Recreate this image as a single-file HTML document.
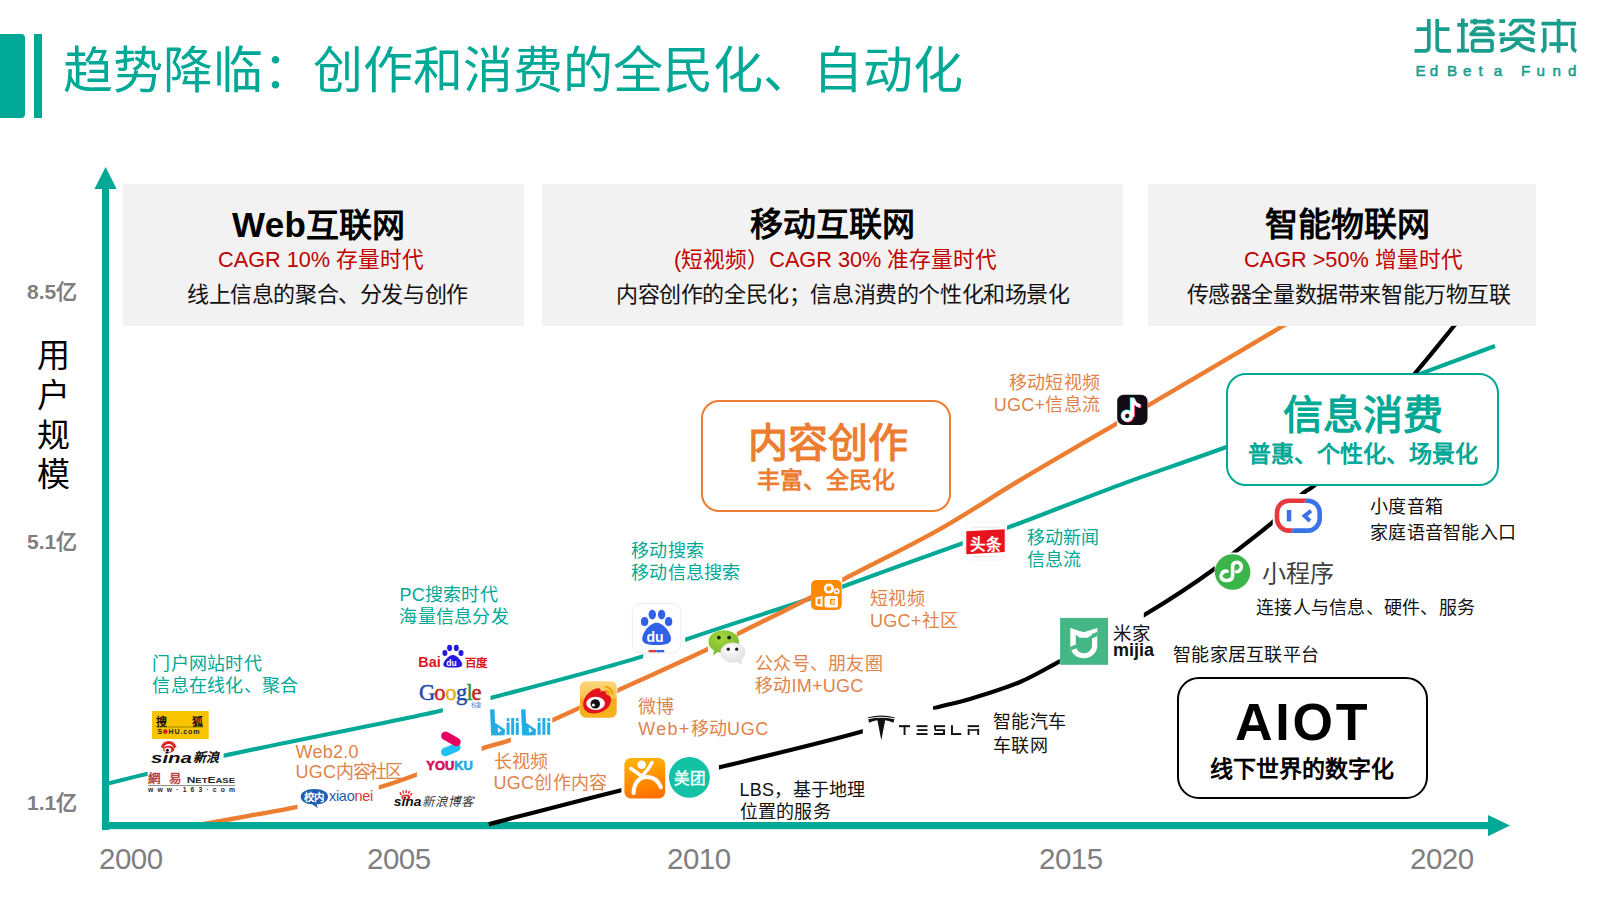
<!DOCTYPE html>
<html lang="zh-CN"><head><meta charset="utf-8">
<style>
html,body{margin:0;padding:0;background:#fff;}
body{width:1600px;height:900px;position:relative;overflow:hidden;font-family:"Liberation Sans",sans-serif;}
.abs{position:absolute;}
.t{position:absolute;white-space:nowrap;}
.ln{display:block;}
.j{text-align:justify;text-align-last:justify;}
.tofu .c{-webkit-text-stroke:0.065em currentColor;}
.tofu .bd .c{-webkit-text-stroke:0.1em currentColor;}
.m .ln{width:max-content;}
.gbox{position:absolute;background:#F2F2F2;top:184px;height:142px;}
</style>
<script>
(function(){try{var c=document.createElement("canvas").getContext("2d");c.font='100px "Liberation Sans", sans-serif';
var a=c.measureText("国国").width;if(a<180)document.documentElement.className+=" tofu";}catch(e){}})();
</script></head><body>
<div class="abs" style="left:0;top:34px;width:25px;height:84px;background:#00A896;border-radius:0 4px 4px 0"></div>
<div class="abs" style="left:34px;top:34px;width:8px;height:84px;background:#00A896"></div>
<div class="gbox" style="left:123px;width:401px"></div>
<div class="gbox" style="left:542px;width:581px"></div>

<svg class="abs" width="1600" height="900" viewBox="0 0 1600 900" style="left:0;top:0">
  <defs><mask id="mt" maskUnits="userSpaceOnUse" x="0" y="0" width="1600" height="900"><rect x="0" y="0" width="1600" height="900" fill="#fff"/><rect x="147.6" y="700" width="76.00" height="100.00" fill="#000"/><rect x="442.9" y="640" width="47.60" height="80.00" fill="#000"/><rect x="643.2" y="600" width="42.00" height="65.00" fill="#000"/><rect x="811" y="575" width="31.20" height="40.00" fill="#000"/><rect x="962.7" y="515" width="44.30" height="50.00" fill="#000"/></mask><mask id="mo" maskUnits="userSpaceOnUse" x="0" y="0" width="1600" height="900"><rect x="0" y="0" width="1600" height="900" fill="#fff"/><rect x="297.5" y="780" width="81.20" height="35.00" fill="#000"/><rect x="416.9" y="725" width="64.70" height="55.00" fill="#000"/><rect x="510.9" y="705" width="41.40" height="40.00" fill="#000"/><rect x="579.7" y="680" width="37.60" height="40.00" fill="#000"/><rect x="708" y="628" width="28.70" height="32.00" fill="#000"/><rect x="811" y="575" width="31.20" height="40.00" fill="#000"/><rect x="1117" y="390" width="30.80" height="40.00" fill="#000"/></mask><mask id="mb" maskUnits="userSpaceOnUse" x="0" y="0" width="1600" height="900"><rect x="0" y="0" width="1600" height="900" fill="#fff"/><rect x="1300" y="150" width="300.00" height="175.80" fill="#000"/><rect x="621.4" y="750" width="97.50" height="55.00" fill="#000"/><rect x="862.8" y="700" width="70.20" height="45.00" fill="#000"/><rect x="933" y="709.6" width="17.00" height="35.40" fill="#000"/><rect x="1059.8" y="612" width="84.00" height="56.00" fill="#000"/><rect x="1214.6" y="552.5" width="36.40" height="38.50" fill="#000"/><rect x="1272.7" y="494" width="50.30" height="42.00" fill="#000"/></mask></defs>
  <path d="M105.00 784.20 C112.10 782.45 131.35 777.62 147.60 773.70 C169.28 768.47 191.65 762.88 223.60 755.80 C277.72 743.82 396.52 721.10 442.90 710.30 C464.63 705.24 470.16 703.42 490.50 698.00 C527.00 688.28 608.38 667.60 643.20 656.10 C661.77 649.97 667.35 646.20 685.20 639.80 C715.81 628.82 783.18 608.06 811.00 598.30 C824.95 593.41 828.40 591.75 842.20 586.70 C869.27 576.79 932.35 554.04 962.70 543.30 C981.06 536.80 988.90 534.50 1007.00 527.90 C1036.07 517.31 1082.95 498.45 1120.00 484.80 C1155.57 471.70 1184.57 462.31 1225.00 447.50 C1280.76 427.08 1373.64 391.31 1423.30 372.70 C1453.14 361.52 1483.05 350.45 1495.00 346.00" fill="none" stroke="#00A896" stroke-width="4.1" stroke-linejoin="round" mask="url(#mt)"/>
  <path d="M193.00 826.00 C202.50 824.27 231.87 818.92 250.00 815.60 C266.56 812.57 279.61 810.67 297.50 806.90 C321.02 801.94 356.80 793.83 378.70 787.50 C393.93 783.10 402.58 779.79 416.90 774.50 C435.72 767.55 464.14 754.82 481.60 748.70 C493.17 744.64 500.45 743.82 510.90 739.80 C523.68 734.88 539.91 726.07 552.30 720.30 C562.36 715.62 569.84 712.20 579.70 707.70 C591.24 702.44 602.06 697.65 617.30 690.70 C641.00 679.90 686.31 659.50 708.00 649.00 C720.32 643.04 724.89 640.36 736.70 634.40 C755.67 624.82 791.60 607.40 811.00 597.20 C823.70 590.52 828.85 587.15 842.20 580.00 C865.68 567.42 909.54 546.32 940.00 529.10 C967.70 513.44 990.29 497.97 1017.80 481.50 C1048.50 463.12 1092.03 437.93 1115.80 424.10 C1129.36 416.21 1133.49 413.95 1147.80 405.60 C1177.13 388.48 1257.60 340.85 1281.70 326.70 C1290.60 321.48 1296.95 317.78 1300.00 316.00" fill="none" stroke="#ED7D31" stroke-width="4.4" stroke-linejoin="round" mask="url(#mo)"/>
</svg>
<div class="gbox" style="left:1148px;width:388px"></div>

<svg class="abs" width="1600" height="900" viewBox="0 0 1600 900" style="left:0;top:0">
  <rect x="102" y="186" width="7" height="644" fill="#00A896"/>
  <polygon points="105.6,167 94.4,189 116.6,189" fill="#00A896"/>
  <rect x="102" y="822" width="1388" height="7.2" fill="#00A896"/>
  <polygon points="1510,825.6 1488,815 1488,836.2" fill="#00A896"/>
  <path d="M488.80 824.20 C510.90 818.53 580.54 800.21 621.40 790.20 C656.34 781.64 683.29 776.03 718.90 767.40 C762.25 756.89 823.51 742.60 862.80 731.30 C890.52 723.33 913.24 714.24 933.00 708.50 C947.22 704.37 956.82 702.93 970.00 699.00 C985.50 694.38 1004.52 688.61 1020.00 682.00 C1034.27 675.90 1044.14 669.66 1059.80 661.30 C1082.68 649.08 1117.30 631.24 1143.80 615.30 C1168.73 600.30 1198.32 580.64 1214.60 568.70 C1223.67 562.05 1227.14 558.42 1235.00 552.10 C1245.63 543.54 1260.85 532.36 1272.70 522.10 C1284.02 512.30 1296.79 498.35 1304.70 492.00 C1308.91 488.62 1310.19 489.21 1315.00 485.00 C1331.71 470.39 1389.75 402.74 1415.00 373.30 C1431.02 354.63 1444.24 337.90 1453.30 326.70 C1458.36 320.45 1463.05 314.45 1465.00 312.00" fill="none" stroke="#000" stroke-width="4.2" stroke-linejoin="round" mask="url(#mb)"/>
</svg>
<div class="abs" style="left:701px;top:400px;width:246px;height:108px;border:2px solid #ED7D31;border-radius:18px;background:#fff"></div>
<div class="abs" style="left:1226px;top:373px;width:269px;height:109px;border:2px solid #00A896;border-radius:20px;background:#fff"></div>
<div class="abs" style="left:1177px;top:677px;width:247px;height:118px;border:2px solid #000;border-radius:22px;background:#fff"></div>
<svg class="abs" width="1600" height="900" viewBox="0 0 1600 900" style="left:0;top:0">
<path d="M1416.5 29.2 L1429 29.2 M1428.8 19 L1428.8 47 Q1428.8 50.8 1425 50.8 L1414.5 50.8 M1437.2 19 L1437.2 47 Q1437.2 50.8 1441 50.8 L1451 50.8 M1437.2 29.2 L1449.5 29.2 M1457.3 24.8 L1468 24.8 M1462.8 18.5 L1462.8 50.5 M1457 50.6 L1469 50.6 M1470.3 21.6 L1493.5 21.6 M1475 18.8 L1475 24.5 M1488.5 18.8 L1488.5 24.5 M1471 34.3 L1476.5 28.2 L1488 28.2 L1493.3 34.3 Z M1474.5 40.6 L1490 40.6 Q1492 40.6 1492 42.6 L1492 48.8 Q1492 50.8 1490 50.8 L1474.5 50.8 Q1472.6 50.8 1472.6 48.8 L1472.6 42.6 Q1472.6 40.6 1474.5 40.6 Z M1499.3 21.2 L1505 21.2 M1499.3 34.3 L1505 34.3 M1509.5 25.8 L1513.6 20.6 L1532 20.6 Q1534.5 21 1531 26 M1521.5 25 Q1518 31.5 1509.5 34.5 M1521.5 25 Q1526 31.5 1535 34 M1502 44 L1502 39.1 L1532 39.1 L1532 44 M1517.5 41 Q1514 48.5 1500.5 51 M1517.5 41 Q1521 48.5 1535 50.8 M1541.5 23.7 L1576 23.7 M1558.6 19 L1558.6 52.8 M1544.7 28 L1544.7 47.5 Q1544.5 50 1541.5 51.5 M1572.7 28 L1572.7 47.5 Q1573 50 1576.3 51.3 M1549.3 44.1 L1568 44.1" fill="none" stroke="#1B9D8D" stroke-width="3.7" stroke-linecap="butt" stroke-linejoin="round"/><text x="1415.4" y="75.9" font-family="Liberation Sans, sans-serif" font-size="15.2" fill="#1B9D8D" stroke="#1B9D8D" stroke-width="0.55">E</text><text x="1429.7" y="75.9" font-family="Liberation Sans, sans-serif" font-size="15.2" fill="#1B9D8D" stroke="#1B9D8D" stroke-width="0.55">d</text><text x="1446.9" y="75.9" font-family="Liberation Sans, sans-serif" font-size="15.2" fill="#1B9D8D" stroke="#1B9D8D" stroke-width="0.55">B</text><text x="1463" y="75.9" font-family="Liberation Sans, sans-serif" font-size="15.2" fill="#1B9D8D" stroke="#1B9D8D" stroke-width="0.55">e</text><text x="1478.4" y="75.9" font-family="Liberation Sans, sans-serif" font-size="15.2" fill="#1B9D8D" stroke="#1B9D8D" stroke-width="0.55">t</text><text x="1493.8" y="75.9" font-family="Liberation Sans, sans-serif" font-size="15.2" fill="#1B9D8D" stroke="#1B9D8D" stroke-width="0.55">a</text><text x="1521.1" y="75.9" font-family="Liberation Sans, sans-serif" font-size="15.2" fill="#1B9D8D" stroke="#1B9D8D" stroke-width="0.55">F</text><text x="1536.6" y="75.9" font-family="Liberation Sans, sans-serif" font-size="15.2" fill="#1B9D8D" stroke="#1B9D8D" stroke-width="0.55">u</text><text x="1552.6" y="75.9" font-family="Liberation Sans, sans-serif" font-size="15.2" fill="#1B9D8D" stroke="#1B9D8D" stroke-width="0.55">n</text><text x="1568" y="75.9" font-family="Liberation Sans, sans-serif" font-size="15.2" fill="#1B9D8D" stroke="#1B9D8D" stroke-width="0.55">d</text>
<rect x="152" y="711" width="56.7" height="28" fill="#F8C400"/>
<text x="156" y="726.3" font-family="Liberation Sans, sans-serif" font-size="11" font-weight="bold" fill="#111">搜</text>
<text x="191.5" y="726.3" font-family="Liberation Sans, sans-serif" font-size="11" font-weight="bold" fill="#111">狐</text>
<line x1="157" y1="727" x2="203" y2="727" stroke="#6a5a00" stroke-width="0.6"/>
<text x="157.5" y="734.2" font-family="Liberation Sans, sans-serif" font-size="7" font-weight="bold" fill="#222">S</text>
<circle cx="165.3" cy="731.6" r="2.3" fill="#D0201A"/>
<text x="168.5" y="734.2" font-family="Liberation Sans, sans-serif" font-size="7" font-weight="bold" fill="#222" letter-spacing="0.9">HU.com</text>
<path d="M164.0 747.3 L161.2 746.3 M164.7 746.0 L162.4 744.1 M165.8 744.9 L164.1 742.4 M167.2 744.2 L166.3 741.4 M168.7 744.0 L168.7 741.0 M170.2 744.2 L171.1 741.4 M171.6 744.9 L173.3 742.4 M172.7 746.0 L175.0 744.1 M173.4 747.3 L176.2 746.3" stroke="#E0201E" stroke-width="2" fill="none"/>
<ellipse cx="168.7" cy="749.3" rx="5.6" ry="3.6" fill="#E0201E"/>
<ellipse cx="167.8" cy="750" rx="3.4" ry="2.4" fill="#fff"/>
<circle cx="167.4" cy="750.2" r="1.5" fill="#111"/>
<text x="151" y="762.8" font-family="Liberation Sans, sans-serif" font-size="15.5" font-weight="bold" font-style="italic" fill="#111" textLength="41" lengthAdjust="spacingAndGlyphs">sina</text>
<text x="192.5" y="762" font-family="Liberation Sans, sans-serif" font-size="13" font-weight="bold" font-style="italic" fill="#111">新浪</text>
<text x="148" y="782.8" font-family="Liberation Sans, sans-serif" font-size="12.5" font-weight="bold" fill="#B84848">網</text>
<text x="169.3" y="782.8" font-family="Liberation Sans, sans-serif" font-size="12.5" font-weight="bold" fill="#B84848">易</text>
<text x="186.7" y="783.4" font-family="Liberation Sans, sans-serif" font-size="9" font-weight="bold" fill="#2a2a2a" textLength="48.3" lengthAdjust="spacingAndGlyphs">N<tspan font-size="7.2">ET</tspan>E<tspan font-size="7.2">ASE</tspan></text>
<line x1="148" y1="785.6" x2="235" y2="785.6" stroke="#888" stroke-width="1"/>
<text x="148" y="792.2" font-family="Liberation Sans, sans-serif" font-size="6.8" font-weight="bold" fill="#2a2a2a" textLength="87" lengthAdjust="spacing">www·163·com</text>
<path d="M314.4 789.1 C323 789.1 328 792.3 328 796.7 C328 801.2 323 804.3 316.5 804.3 L318 808.2 L312.2 804.3 C305.5 804 300.8 801 300.8 796.7 C300.8 792.3 306 789.1 314.4 789.1 Z" fill="#1E5DAF"/>
<text x="303.6" y="800.6" font-family="Liberation Sans, sans-serif" font-size="10.5" font-weight="bold" fill="#fff">校内</text>
<text x="329" y="801.4" font-family="Liberation Sans, sans-serif" font-size="14.5" fill="#1E5DAF" letter-spacing="-0.3">xiao<tspan fill="#D23A3A">nei</tspan></text>
<path d="M401.2 795 L400 792.2 M403.5 793.4 L403 790.6 M406 793 L406.4 790.2 M408.4 793.6 L409.6 791 M410.2 795.2 L412.2 793.3" stroke="#E0201E" stroke-width="1.4"/>
<ellipse cx="405.8" cy="797.2" rx="4.4" ry="2.8" fill="#E0201E"/>
<ellipse cx="405.2" cy="797.6" rx="2.6" ry="1.8" fill="#fff"/>
<circle cx="405" cy="797.7" r="1.1" fill="#111"/>
<text x="393.8" y="806.3" font-family="Liberation Sans, sans-serif" font-size="12.5" font-weight="bold" font-style="italic" fill="#111" textLength="27.6" lengthAdjust="spacingAndGlyphs">sina</text>
<text x="422.2" y="805.8" font-family="Liberation Sans, sans-serif" font-size="12.5" font-style="italic" fill="#333">新浪博客</text>
<text x="418.3" y="667" font-family="Liberation Sans, sans-serif" font-size="15.5" font-weight="bold" fill="#E0141E" textLength="22.5" lengthAdjust="spacingAndGlyphs">Bai</text>
<ellipse cx="444.9" cy="653" rx="2.5" ry="3" fill="#2319DC"/>
<ellipse cx="449.6" cy="647.9" rx="2.5" ry="3.1" fill="#2319DC"/>
<ellipse cx="456.3" cy="647.9" rx="2.5" ry="3.1" fill="#2319DC"/>
<ellipse cx="461" cy="653" rx="2.5" ry="3" fill="#2319DC"/>
<path d="M452.8 655 C457 655 462.2 661.5 462.2 664.5 C462.2 667 459.5 667.6 452.8 667.6 C446 667.6 443.3 667 443.3 664.5 C443.3 661.5 448.6 655 452.8 655 Z" fill="#2319DC"/>
<text x="446.3" y="666.2" font-family="Liberation Sans, sans-serif" font-size="8.5" font-weight="bold" fill="#fff">du</text>
<text x="464.8" y="667" font-family="Liberation Sans, sans-serif" font-size="11.5" font-weight="bold" fill="#E0141E">百度</text>
<text x="418.9" y="700.4" font-family="Liberation Serif, serif" font-size="22.5" fill="#2747A6" stroke="#2747A6" stroke-width="0.45">G</text>
<text x="434.3" y="700.4" font-family="Liberation Serif, serif" font-size="22.5" fill="#C2261C" stroke="#C2261C" stroke-width="0.45">o</text>
<text x="445.2" y="700.4" font-family="Liberation Serif, serif" font-size="22.5" fill="#E2AE17" stroke="#E2AE17" stroke-width="0.45">o</text>
<text x="455.9" y="700.4" font-family="Liberation Serif, serif" font-size="22.5" fill="#2747A6" stroke="#2747A6" stroke-width="0.45">g</text>
<text x="466.5" y="700.4" font-family="Liberation Serif, serif" font-size="22.5" fill="#2C9636" stroke="#2C9636" stroke-width="0.45">l</text>
<text x="471.6" y="700.4" font-family="Liberation Serif, serif" font-size="22.5" fill="#C2261C" stroke="#C2261C" stroke-width="0.45">e</text>
<text x="470.5" y="706.6" font-family="Liberation Sans, sans-serif" font-size="5.2" fill="#2A5CC9">谷歌</text>
<path d="M456.4 747.4 L445.2 752" stroke="#20C1F2" stroke-width="8.4" stroke-linecap="round"/>
<path d="M445.4 735.8 L456.4 742" stroke="#E8005E" stroke-width="8.6" stroke-linecap="round"/>
<text x="426.3" y="770" font-family="Liberation Sans, sans-serif" font-size="12.6" font-weight="bold" fill="#D0125F" stroke="#D0125F" stroke-width="0.6" stroke-linejoin="round" textLength="46.5" lengthAdjust="spacingAndGlyphs">YOU<tspan fill="#28A9DC" stroke="#28A9DC">KU</tspan></text>
<path d="M490 709.5 L494.5 709.2 L495.6 735.3 L491.2 735.6 Z" fill="#23ADE5"/><path d="M495 722.8 L505 729.5 L504.6 735.3 L495 735.6 Z" fill="#23ADE5"/><path d="M497.8 727.2 L501.6 730.8 L498 732.8 Z" fill="#fff"/><rect x="506.6" y="722.5" width="3" height="12.299999999999955" fill="#23ADE5"/><rect x="506.8" y="718.2" width="2.6" height="3" fill="#23ADE5"/><rect x="511.2" y="718" width="3" height="16.799999999999955" fill="#23ADE5"/><rect x="515.8" y="722.5" width="3" height="12.299999999999955" fill="#23ADE5"/><rect x="516.0" y="718.2" width="2.6" height="3" fill="#23ADE5"/><path d="M521 709.5 L525.5 709.2 L526.6 735.3 L522.2 735.6 Z" fill="#23ADE5"/><path d="M526 722.8 L536 729.5 L535.6 735.3 L526 735.6 Z" fill="#23ADE5"/><path d="M528.8 727.2 L532.6 730.8 L529 732.8 Z" fill="#fff"/><rect x="537.6" y="722.5" width="3" height="12.299999999999955" fill="#23ADE5"/><rect x="537.8000000000001" y="718.2" width="2.6" height="3" fill="#23ADE5"/><rect x="542.4" y="718" width="3" height="16.799999999999955" fill="#23ADE5"/><rect x="547.2" y="722.5" width="3" height="12.299999999999955" fill="#23ADE5"/><rect x="547.4000000000001" y="718.2" width="2.6" height="3" fill="#23ADE5"/>
<defs><linearGradient id="wbg" x1="0" y1="0" x2="0" y2="1">
<stop offset="0" stop-color="#FBD77E"/><stop offset="0.45" stop-color="#F9C24A"/><stop offset="0.5" stop-color="#F7A91B"/><stop offset="1" stop-color="#F6B41E"/></linearGradient></defs>
<rect x="580" y="681.3" width="36.7" height="36.4" rx="5.5" fill="url(#wbg)"/>
<path d="M583.2 705.5 C582.5 697 591 689 598 688.2 C600.5 688 601.3 690 600.5 691.8 C603.8 690.2 607 691.5 606.5 694.5 C610.5 695.2 612.3 698.5 610.6 702.5 C608.5 710 600.5 713.5 594 713.5 C587.5 713.5 583.6 710 583.2 705.5 Z" fill="#E3121E"/>
<ellipse cx="595.6" cy="703.4" rx="9.3" ry="6.6" fill="#fff"/>
<circle cx="595.3" cy="703.9" r="4.7" fill="#111"/>
<circle cx="593.4" cy="704.9" r="1.5" fill="#fff"/>
<path d="M605 686.5 A8 8 0 0 1 612.5 694.5" stroke="#F0A000" stroke-width="2" fill="none"/>
<path d="M605.3 690.6 A4 4 0 0 1 609 694.3" stroke="#F0A000" stroke-width="2" fill="none"/>
<rect x="632.3" y="603.3" width="48.5" height="49.7" rx="9" fill="#fff" stroke="#ECECEC" stroke-width="1"/>
<ellipse cx="644.6" cy="621.6" rx="3.7" ry="4.5" fill="#3062E8"/>
<ellipse cx="652.3" cy="614.6" rx="3.7" ry="4.8" fill="#3062E8"/>
<ellipse cx="661.6" cy="614.6" rx="3.7" ry="4.8" fill="#3062E8"/>
<ellipse cx="668.6" cy="621.6" rx="3.7" ry="4.5" fill="#3062E8"/>
<path d="M656.6 622.8 C663.5 622.8 671 633 671 638.8 C671 643.6 666.5 645 656.6 645 C646.7 645 642.2 643.6 642.2 638.8 C642.2 633 649.7 622.8 656.6 622.8 Z" fill="#3062E8"/>
<text x="646.4" y="641.6" font-family="Liberation Sans, sans-serif" font-size="14" font-weight="bold" fill="#fff">du</text>
<rect x="648.6" y="650" width="7.8" height="2.3" fill="#E53935"/>
<rect x="656.4" y="650" width="7.8" height="2.3" fill="#3062E8"/>
<defs><radialGradient id="wcg" cx="0.4" cy="0.3" r="0.8"><stop offset="0" stop-color="#A4D63A"/><stop offset="1" stop-color="#6FB52C"/></radialGradient>
<radialGradient id="wcw" cx="0.4" cy="0.3" r="0.8"><stop offset="0" stop-color="#FFFFFF"/><stop offset="1" stop-color="#DADADA"/></radialGradient></defs>
<path d="M723.8 630.2 C732.5 630.2 739 635.4 739 641.7 C739 648 732.5 653 723.8 653 C721.5 653 719.5 652.7 717.6 652.1 L713 655.5 L714 650.5 C710.5 648.3 708.5 645.2 708.5 641.7 C708.5 635.4 715 630.2 723.8 630.2 Z" fill="url(#wcg)"/>
<circle cx="718.9" cy="637.6" r="1.9" fill="#1A1A1A"/><circle cx="729.1" cy="637.6" r="1.9" fill="#1A1A1A"/>
<path d="M732.8 642.8 C739.6 642.8 745 647.2 745 652.5 C745 655.6 743.2 658.3 740.5 660 L741.5 664 L737.6 661.5 C736 662 734.4 662.2 732.8 662.2 C726 662.2 720.6 657.8 720.6 652.5 C720.6 647.2 726 642.8 732.8 642.8 Z" fill="url(#wcw)" stroke="#D8D8D8" stroke-width="0.5"/>
<circle cx="728.3" cy="649.2" r="1.6" fill="#1A1A1A"/><circle cx="736.7" cy="649.2" r="1.6" fill="#1A1A1A"/>
<rect x="811.1" y="580" width="30.6" height="30" rx="5" fill="#FF8A00"/>
<circle cx="828.9" cy="588.6" r="5" fill="#fff"/><circle cx="828.9" cy="588.6" r="2.4" fill="#FF8A00"/>
<circle cx="836.6" cy="591.2" r="3" fill="#fff"/><circle cx="836.6" cy="591.2" r="1.3" fill="#FF8A00"/>
<path d="M815.5 597.5 L822.5 596 L822.5 607 L815.5 605.5 Z" fill="#fff"/>
<rect x="824.5" y="596" width="13.5" height="11.5" rx="2" fill="#fff"/>
<path d="M817.5 599 L820.5 598.6 L820.5 604.6 L817.5 604 Z" fill="#FF8A00"/>
<rect x="830" y="599" width="5" height="5.5" fill="#FF8A00"/><rect x="831.3" y="600.3" width="3.5" height="1.2" fill="#fff"/><rect x="831.3" y="602.2" width="3.5" height="1.2" fill="#fff"/>
<defs><linearGradient id="dpg" x1="0.3" y1="0" x2="0.5" y2="1"><stop offset="0" stop-color="#FFB400"/><stop offset="1" stop-color="#FF7000"/></linearGradient></defs>
<rect x="624.4" y="758" width="40.8" height="40.4" rx="6.5" fill="url(#dpg)"/>
<circle cx="641.7" cy="764.8" r="4.3" fill="#fff"/>
<path d="M630.8 768.6 C635 771.5 638.5 773.5 641.5 776.5 C645 773 648.5 770 652 762.6" stroke="#fff" stroke-width="3.6" fill="none" stroke-linecap="round"/>
<path d="M633.6 793 C633.8 782 640 777 647 777 C654 777 658.5 781.5 660.8 787" stroke="#fff" stroke-width="4.2" fill="none" stroke-linecap="round"/>
<circle cx="689.4" cy="777.4" r="20.4" fill="#13C1A4"/>
<text x="673.6" y="784.3" font-family="Liberation Sans, sans-serif" font-size="15.5" font-weight="bold" fill="#E6FFFB">美团</text>
<rect x="965.5" y="522" width="39.5" height="38" rx="5" fill="#fff" stroke="#F0F0F0" stroke-width="0.8"/>
<path d="M966.3 531.3 L1004.7 529.3 L1004.7 552 L966.3 554.3 Z" fill="#E8141B"/>
<text x="969.8" y="549.8" font-family="Liberation Sans, sans-serif" font-size="15.5" font-weight="bold" fill="#fff">头条</text>
<line x1="972" y1="527" x2="999" y2="527" stroke="#DDD" stroke-width="0.8"/>
<line x1="972" y1="556.6" x2="999" y2="556.6" stroke="#DDD" stroke-width="0.8"/>
<rect x="1117.2" y="394.7" width="30.3" height="30.3" rx="6.5" fill="#120A14"/><path d="M1131.6000000000001 397.4 L1131.6000000000001 415.9" stroke="#25F4EE" stroke-width="3.6" fill="none"/><circle cx="1126.5" cy="415.4" r="4.2" stroke="#25F4EE" stroke-width="3.4" fill="none"/><path d="M1132.2 397.9 C1133.2 402.4 1136.2 404.9 1139.7 405.4" stroke="#25F4EE" stroke-width="3.4" fill="none"/><path d="M1133.2 398.6 L1133.2 417.1" stroke="#FE2C55" stroke-width="3.6" fill="none"/><circle cx="1128.1" cy="416.6" r="4.2" stroke="#FE2C55" stroke-width="3.4" fill="none"/><path d="M1133.8 399.1 C1134.8 403.6 1137.8 406.1 1141.3 406.6" stroke="#FE2C55" stroke-width="3.4" fill="none"/><path d="M1132.4 398 L1132.4 416.5" stroke="#FFFFFF" stroke-width="3.6" fill="none"/><circle cx="1127.3" cy="416" r="4.2" stroke="#FFFFFF" stroke-width="3.4" fill="none"/><path d="M1133 398.5 C1134 403 1137 405.5 1140.5 406" stroke="#FFFFFF" stroke-width="3.4" fill="none"/>
<path d="M867.7 717.4 Q881.3 713.6 895 717.4 L895 718.3 Q881.3 715 867.7 718.3 Z" fill="#111"/>
<path d="M868.2 719.2 Q881.3 716.4 894.4 719.2 L893.4 722.8 Q888.5 720.3 885.2 720.3 L881.3 740.2 L877.4 720.3 Q874 720.3 869.2 722.8 Z" fill="#111"/>
<g fill="#111">
<rect x="899" y="725.2" width="11" height="2"/><rect x="903.6" y="725.2" width="1.9" height="9.8"/>
<rect x="916.5" y="725.2" width="11" height="1.9"/><rect x="917.5" y="729.2" width="10" height="1.8"/><rect x="916.5" y="733.1" width="11" height="1.9"/>
<rect x="934" y="725.2" width="11" height="1.9"/><path d="M934 727.1 L936 727.1 L936 729.2 L945 729.2 L945 735 L934 735 L934 733.1 L943 733.1 L943 731.1 L934.8 731.1 Z"/>
<rect x="951" y="725.2" width="1.9" height="9.8"/><rect x="951" y="733.1" width="10.2" height="1.9"/>
<rect x="967.7" y="725.2" width="11.4" height="1.9"/><rect x="967.7" y="728.8" width="1.9" height="6.2"/><rect x="977.2" y="728.8" width="1.9" height="6.2"/><rect x="969.6" y="729.2" width="7.6" height="1.6"/>
</g>
<rect x="1060.1" y="617.9" width="48" height="46.9" fill="#45B787"/>
<path d="M1070.3 628 L1083.7 632.2 L1097.3 628 L1097.3 645.5 C1097.3 653 1091 658.2 1083.8 658.2 C1076.5 658.2 1070.3 653 1070.3 645.5 Z" fill="#fff"/>
<path d="M1075.8 634.8 L1079.8 637.8 L1087.6 637.8 L1092 634.8 L1092 645.3 C1092 650 1088.3 653.3 1083.9 653.3 C1079.5 653.3 1075.8 650 1075.8 645.3 Z" fill="#45B787"/>
<path d="M1070 647 L1076 644.5 L1076 648.5 L1071 650.5 Z" fill="#45B787"/>
<path d="M1097.5 636 L1092 638.5 L1092 634 L1097.5 631.8 Z" fill="#45B787"/>
<text x="1113.4" y="640.4" font-family="Liberation Sans, sans-serif" font-size="18.5" fill="#111">米家</text>
<text x="1113" y="656" font-family="Liberation Sans, sans-serif" font-size="17.5" font-weight="bold" fill="#111" textLength="41" lengthAdjust="spacingAndGlyphs">mijia</text>
<defs><clipPath id="xdr"><path d="M1270 495 L1308 495 L1288 540 L1270 540 Z"/></clipPath>
<clipPath id="xdb"><path d="M1308 495 L1326 495 L1326 540 L1288 540 Z"/></clipPath></defs>
<rect x="1277" y="500.7" width="42.7" height="29.9" rx="12" fill="#fff" stroke="#E8383D" stroke-width="4.6" clip-path="url(#xdr)"/>
<rect x="1277" y="500.7" width="42.7" height="29.9" rx="12" fill="#fff" stroke="#3A73E8" stroke-width="4.6" clip-path="url(#xdb)"/>
<rect x="1286.8" y="509.9" width="4.5" height="11.5" fill="#3A73E8"/>
<path d="M1311.1 510.8 L1304.6 515.9 L1310 521" stroke="#3A73E8" stroke-width="4" fill="none"/>
<circle cx="1232.6" cy="572" r="17.8" fill="#3BB54A"/>
<path d="M1226 580.5 C1221.5 580.5 1220 576.5 1221.8 573.6 C1223 571.5 1225.5 571 1227 571.3 M1232.6 572 L1232.6 566.5 C1232.6 562.8 1236 561.8 1238.3 562.5 C1241.5 563.5 1242.3 567.5 1240.2 570 C1239.3 571.2 1237.8 571.8 1236.5 571.8 M1232.6 572 L1232.6 576 C1232.6 579 1230 580.5 1226 580.5" stroke="#fff" stroke-width="3.6" fill="none" stroke-linecap="round"/>
</svg>
<div id="title" class="t" style="left:62.5px;top:45.75px;font-size:50px;color:#00A896;font-weight:400;line-height:1;"><span class="ln j" id="title_0" style="width:900px;"><span class="c">趋势降临：创作和消费的全民化、自动化</span></span></div>
<div id="b1h" class="t bd" style="left:232px;top:208px;font-size:33px;color:#000;font-weight:700;line-height:33px;"><span class="ln j" id="b1h_0" style="width:173.16px;"><span style='font-size:35px;letter-spacing:0.3px'>Web</span><span class="c">互联网</span></span></div>
<div id="b1r" class="t" style="left:218px;top:249px;font-size:21.7px;color:#C00000;font-weight:400;line-height:1;"><span class="ln j" id="b1r_0" style="width:206.13px;">CAGR 10% <span class="c">存量时代</span></span></div>
<div id="b1t" class="t" style="left:187px;top:284px;font-size:22px;color:#111;font-weight:400;line-height:1;letter-spacing:-0.4px;"><span class="ln j" id="b1t_0" style="width:280.81px;"><span class="c">线上信息的聚合、分发与创作</span></span></div>
<div id="b2h" class="t bd" style="left:749.5px;top:208px;font-size:33px;color:#000;font-weight:700;line-height:1;"><span class="ln j" id="b2h_0" style="width:165px;"><span class="c">移动互联网</span></span></div>
<div id="b2r" class="t" style="left:674px;top:249px;font-size:21.7px;color:#C00000;font-weight:400;line-height:1;"><span class="ln j" id="b2r_0" style="width:323.36px;">(<span class="c">短视频）</span>CAGR 30% <span class="c">准存量时代</span></span></div>
<div id="b2t" class="t" style="left:616px;top:284px;font-size:22px;color:#111;font-weight:400;line-height:1;letter-spacing:-0.4px;"><span class="ln j" id="b2t_0" style="width:453.61px;"><span class="c">内容创作的全民化；信息消费的个性化和场景化</span></span></div>
<div id="b3h" class="t bd" style="left:1265px;top:208px;font-size:33px;color:#000;font-weight:700;line-height:1;"><span class="ln j" id="b3h_0" style="width:165px;"><span class="c">智能物联网</span></span></div>
<div id="b3r" class="t" style="left:1244px;top:249px;font-size:21.7px;color:#C00000;font-weight:400;line-height:1;"><span class="ln j" id="b3r_0" style="width:218.8px;">CAGR &gt;50% <span class="c">增量时代</span></span></div>
<div id="b3t" class="t" style="left:1186.6px;top:284px;font-size:22px;color:#111;font-weight:400;line-height:1;letter-spacing:-0.4px;"><span class="ln j" id="b3t_0" style="width:324.02px;"><span class="c">传感器全量数据带来智能万物互联</span></span></div>
<div id="y1" class="t bd" style="left:27px;top:281px;font-size:21px;color:#7F7F7F;font-weight:700;line-height:1;"><span class="ln j" id="y1_0" style="width:50.2px;">8.5<span class="c">亿</span></span></div>
<div id="y2" class="t bd" style="left:27px;top:531px;font-size:21px;color:#7F7F7F;font-weight:700;line-height:1;"><span class="ln j" id="y2_0" style="width:50.2px;">5.1<span class="c">亿</span></span></div>
<div id="y3" class="t bd" style="left:27px;top:792px;font-size:21px;color:#7F7F7F;font-weight:700;line-height:1;"><span class="ln j" id="y3_0" style="width:50.2px;">1.1<span class="c">亿</span></span></div>
<div id="ylab" class="t" style="left:37px;top:336.4px;font-size:33px;color:#000;font-weight:400;line-height:39.6px;width:33px;text-align:center"><span class="ln j" id="ylab_0" style="width:33px;"><span class="c">用</span></span><span class="ln j" id="ylab_1" style="width:33px;"><span class="c">户</span></span><span class="ln j" id="ylab_2" style="width:33px;"><span class="c">规</span></span><span class="ln j" id="ylab_3" style="width:33px;"><span class="c">模</span></span></div>
<div id="x0" class="t" style="left:99px;top:844px;font-size:29.5px;color:#7F7F7F;font-weight:400;line-height:1;letter-spacing:-0.5px"><span class="ln" id="x0_0">2000</span></div>
<div id="x1" class="t" style="left:367px;top:844px;font-size:29.5px;color:#7F7F7F;font-weight:400;line-height:1;letter-spacing:-0.5px"><span class="ln" id="x1_0">2005</span></div>
<div id="x2" class="t" style="left:667px;top:844px;font-size:29.5px;color:#7F7F7F;font-weight:400;line-height:1;letter-spacing:-0.5px"><span class="ln" id="x2_0">2010</span></div>
<div id="x3" class="t" style="left:1039px;top:844px;font-size:29.5px;color:#7F7F7F;font-weight:400;line-height:1;letter-spacing:-0.5px"><span class="ln" id="x3_0">2015</span></div>
<div id="x4" class="t" style="left:1410px;top:844px;font-size:29.5px;color:#7F7F7F;font-weight:400;line-height:1;letter-spacing:-0.5px"><span class="ln" id="x4_0">2020</span></div>
<div id="a1" class="t" style="left:152.4px;top:652.5px;font-size:18px;color:#00A896;font-weight:300;line-height:22px;letter-spacing:0.25px;"><span class="ln j" id="a1_0" style="width:109.5px;"><span class="c">门户网站时代</span></span><span class="ln j" id="a1_1" style="width:146px;"><span class="c">信息在线化、聚合</span></span></div>
<div id="a2" class="t" style="left:399.4px;top:584.3px;font-size:18px;color:#00A896;font-weight:300;line-height:22px;letter-spacing:0.25px;"><span class="ln j" id="a2_0" style="width:98.52px;">PC<span class="c">搜索时代</span></span><span class="ln j" id="a2_1" style="width:109.5px;"><span class="c">海量信息分发</span></span></div>
<div id="a3" class="t" style="left:631px;top:539.9px;font-size:18px;color:#00A896;font-weight:300;line-height:22px;letter-spacing:0.25px;"><span class="ln j" id="a3_0" style="width:73px;"><span class="c">移动搜索</span></span><span class="ln j" id="a3_1" style="width:109.5px;"><span class="c">移动信息搜索</span></span></div>
<div id="a4" class="t" style="left:1026.7px;top:527.4px;font-size:18px;color:#00A896;font-weight:300;line-height:22px;letter-spacing:0.25px;"><span class="ln j" id="a4_0" style="width:73px;"><span class="c">移动新闻</span></span><span class="ln j" id="a4_1" style="width:54.75px;"><span class="c">信息流</span></span></div>
<div id="o1" class="t" style="left:295.6px;top:741.5px;font-size:18px;color:#E0834A;font-weight:300;line-height:20px;letter-spacing:0.25px;"><span class="ln" id="o1_0">Web2.0</span><span class="ln j" id="o1_1" style="width:105.95px;">UGC<span style='letter-spacing:-1.7px'><span class="c">内容社区</span></span></span></div>
<div id="o2" class="t" style="left:493.6px;top:751.5px;font-size:18px;color:#E0834A;font-weight:300;line-height:21px;letter-spacing:0.25px;"><span class="ln j" id="o2_0" style="width:54.75px;"><span class="c">长视频</span></span><span class="ln j" id="o2_1" style="width:113.75px;">UGC<span class="c">创作内容</span></span></div>
<div id="o3" class="t" style="left:638.2px;top:697.3px;font-size:18px;color:#E0834A;font-weight:300;line-height:21.5px;letter-spacing:0.25px;"><span class="ln j" id="o3_0" style="width:36.5px;"><span class="c">微博</span></span><span class="ln j" id="o3_1" style="width:130.72px;"><span style='letter-spacing:1.3px'>Web+</span><span class="c">移动</span><span style='letter-spacing:0.6px'>UGC</span></span></div>
<div id="o4" class="t" style="left:755px;top:653.3px;font-size:18px;color:#E0834A;font-weight:300;line-height:22px;letter-spacing:0.25px;"><span class="ln j" id="o4_0" style="width:127.75px;"><span class="c">公众号、朋友圈</span></span><span class="ln j" id="o4_1" style="width:108.52px;"><span class="c">移动</span>IM+UGC</span></div>
<div id="o5" class="t" style="left:870px;top:588.2px;font-size:18px;color:#E0834A;font-weight:300;line-height:22px;letter-spacing:0.25px;"><span class="ln j" id="o5_0" style="width:54.75px;"><span class="c">短视频</span></span><span class="ln j" id="o5_1" style="width:88.02px;">UGC+<span class="c">社区</span></span></div>
<div id="o6" class="t" style="left:990px;top:372.4px;font-size:18px;color:#E0834A;font-weight:300;line-height:22px;letter-spacing:0.25px;text-align:right;width:110px"><span class="ln j" id="o6_0" style="width:91.25px;margin-left:auto;"><span class="c">移动短视频</span></span><span class="ln j" id="o6_1" style="width:106.27px;margin-left:auto;">UGC+<span class="c">信息流</span></span></div>
<div id="k1" class="t" style="left:739.6px;top:779.3px;font-size:18px;color:#111;font-weight:400;line-height:22px;letter-spacing:0.25px;"><span class="ln j" id="k1_0" style="width:126.03px;">LBS<span class="c">，基于地理</span></span><span class="ln j" id="k1_1" style="width:91.25px;"><span class="c">位置的服务</span></span></div>
<div id="k2" class="t" style="left:993px;top:709.8px;font-size:18px;color:#111;font-weight:400;line-height:24px;letter-spacing:0.25px;"><span class="ln j" id="k2_0" style="width:73px;"><span class="c">智能汽车</span></span><span class="ln j" id="k2_1" style="width:54.75px;"><span class="c">车联网</span></span></div>
<div id="k3" class="t" style="left:1173px;top:645.5px;font-size:18px;color:#111;font-weight:400;line-height:1;letter-spacing:0.25px;"><span class="ln j" id="k3_0" style="width:146px;"><span class="c">智能家居互联平台</span></span></div>
<div id="k4" class="t" style="left:1370px;top:494.2px;font-size:18px;color:#111;font-weight:400;line-height:26px;letter-spacing:0.25px;"><span class="ln j" id="k4_0" style="width:73px;"><span class="c">小度音箱</span></span><span class="ln j" id="k4_1" style="width:146px;"><span class="c">家庭语音智能入口</span></span></div>
<div id="k5" class="t" style="left:1261.7px;top:562px;font-size:24px;color:#404040;font-weight:400;line-height:1;"><span class="ln j" id="k5_0" style="width:72px;"><span class="c">小程序</span></span></div>
<div id="k6" class="t" style="left:1256px;top:599.2px;font-size:18px;color:#111;font-weight:400;line-height:1;letter-spacing:0.25px;"><span class="ln j" id="k6_0" style="width:219px;"><span class="c">连接人与信息、硬件、服务</span></span></div>
<div id="c1" class="t bd" style="left:748.3px;top:423.2px;font-size:40px;color:#ED7D31;font-weight:700;line-height:1;"><span class="ln j" id="c1_0" style="width:160px;"><span class="c">内容创作</span></span></div>
<div id="c1s" class="t bd" style="left:757.4px;top:468.7px;font-size:23px;color:#ED7D31;font-weight:700;line-height:1;"><span class="ln j" id="c1s_0" style="width:138px;"><span class="c">丰富、全民化</span></span></div>
<div id="c2" class="t bd" style="left:1283px;top:395.2px;font-size:40px;color:#00A896;font-weight:700;line-height:1;"><span class="ln j" id="c2_0" style="width:160px;"><span class="c">信息消费</span></span></div>
<div id="c2s" class="t bd" style="left:1247.5px;top:442.5px;font-size:23px;color:#00A896;font-weight:700;line-height:1;"><span class="ln j" id="c2s_0" style="width:230px;"><span class="c">普惠、个性化、场景化</span></span></div>
<div id="aiot" class="t bd" style="left:1235px;top:695.5px;font-size:52px;color:#000;font-weight:700;line-height:1;letter-spacing:2.8px"><span class="ln" id="aiot_0">AIOT</span></div>
<div id="aiots" class="t bd" style="left:1209.7px;top:758.2px;font-size:23px;color:#000;font-weight:700;line-height:1;"><span class="ln j" id="aiots_0" style="width:184px;"><span class="c">线下世界的数字化</span></span></div>
</body></html>
